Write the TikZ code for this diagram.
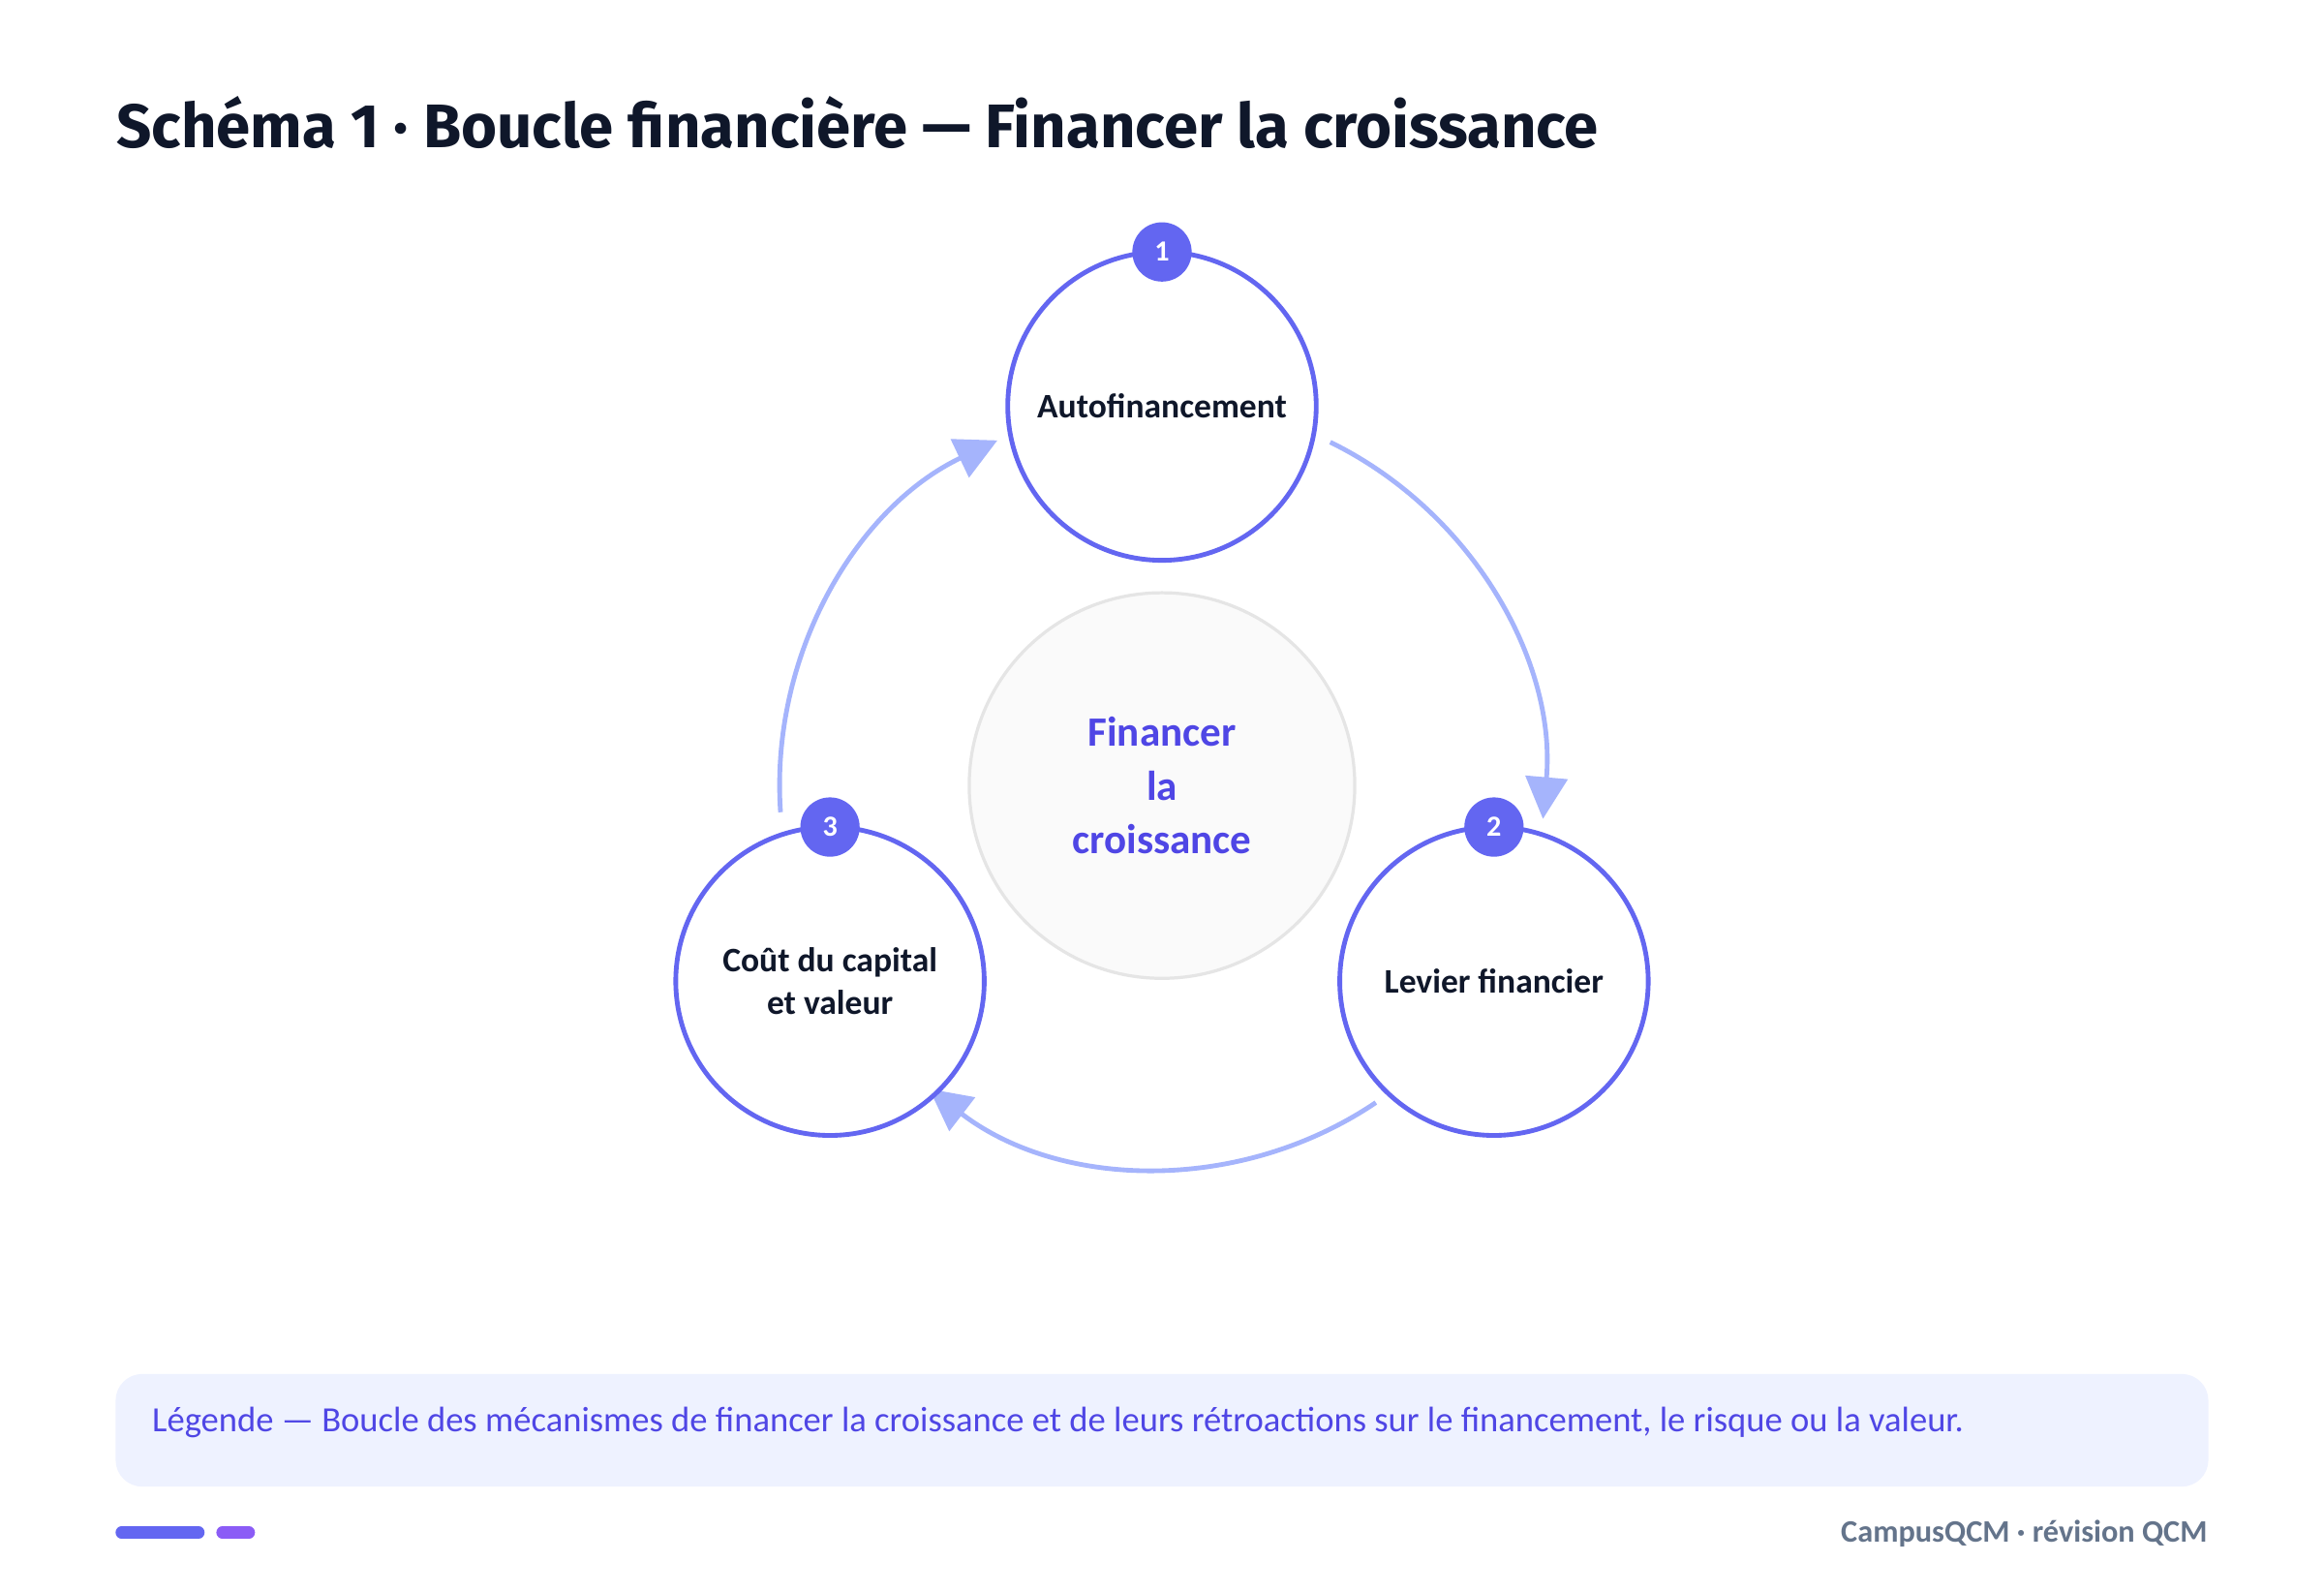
\documentclass[tikz,border=0pt]{standalone}
\usepackage{fontspec}
\setmainfont{Carlito}
\newfontfamily\titlefont{Fira Sans}
\usetikzlibrary{arrows.meta}
\definecolor{ind}{HTML}{6366F1}
\definecolor{indd}{HTML}{4F46E5}
\definecolor{loop}{HTML}{A5B4FC}
\definecolor{ink}{HTML}{0F172A}
\definecolor{grayt}{HTML}{64748B}
\definecolor{legbg}{HTML}{EEF2FF}
\definecolor{vio}{HTML}{8B5CF6}
\begin{document}
\begin{tikzpicture}[x=0.01cm,y=-0.01cm,
  stepnode/.style={circle,draw=ind,line width=0.9pt,fill=white,minimum size=2.08cm,inner sep=0pt,align=center,font=\fontsize{6.6}{8.2}\selectfont\bfseries,text=ink},
  badge/.style={circle,fill=ind,minimum size=0.4cm,inner sep=0pt,font=\fontsize{5.6}{6}\selectfont\bfseries,text=white},
  loopar/.style={draw=loop,line width=0.9pt,-{Triangle[length=8pt,width=8pt]}}]
\useasboundingbox (0,0) rectangle (1568,1074);
\fill[white] (0,0) rectangle (1568,1074);
\node[anchor=west,inner sep=0pt,font=\titlefont\fontsize{11.8}{13}\selectfont\bfseries,text=ink] (title) at (78,83) {Schéma 1 · Boucle financière — Financer la croissance};
\node[circle,draw=gray!20,line width=0.6pt,fill=gray!4,minimum size=2.6cm,inner sep=0pt,align=center,text=indd,font=\fontsize{8}{10.3}\selectfont\bfseries] (c) at (784,530) {Financer\\la\\croissance};
\draw[loopar] (c.center) ++(-63.9:258) arc[start angle=-63.9,end angle=5,radius=258] coordinate (e1);
\draw[loopar] (c.center) ++(56:258) arc[start angle=56,end angle=127.5,radius=258] coordinate (e2);
\draw[loopar] (c.center) ++(176:258) arc[start angle=176,end angle=244.5,radius=258] coordinate (e3);
\node[stepnode] (n1) at (784,274) {Autofinancement};
\node[stepnode] (n2) at (1008,662) {Levier financier};
\node[stepnode] (n3) at (560,662) {Coût du capital\\et valeur};
\node[badge] (b1) at (784,170) {1};
\node[badge] (b2) at (1008,558) {2};
\node[badge] (b3) at (560,558) {3};
\fill[legbg,rounded corners=0.18cm] (78,927) rectangle (1490,1003);
\node[anchor=west,inner sep=0pt,text=indd,font=\fontsize{6.8}{7}\selectfont] (leg) at (102,960) {Légende — Boucle des mécanismes de financer la croissance et de leurs rétroactions sur le financement, le risque ou la valeur.};
\draw[ind,line width=2.3pt,line cap=round] (82,1034) -- (134,1034);
\draw[vio,line width=2.3pt,line cap=round] (150,1034) -- (168,1034);
\node[anchor=east,inner sep=0pt,text=grayt,font=\fontsize{6}{6}\selectfont\bfseries] (foot) at (1490,1035) {CampusQCM · révision QCM};
\end{tikzpicture}
\end{document}
